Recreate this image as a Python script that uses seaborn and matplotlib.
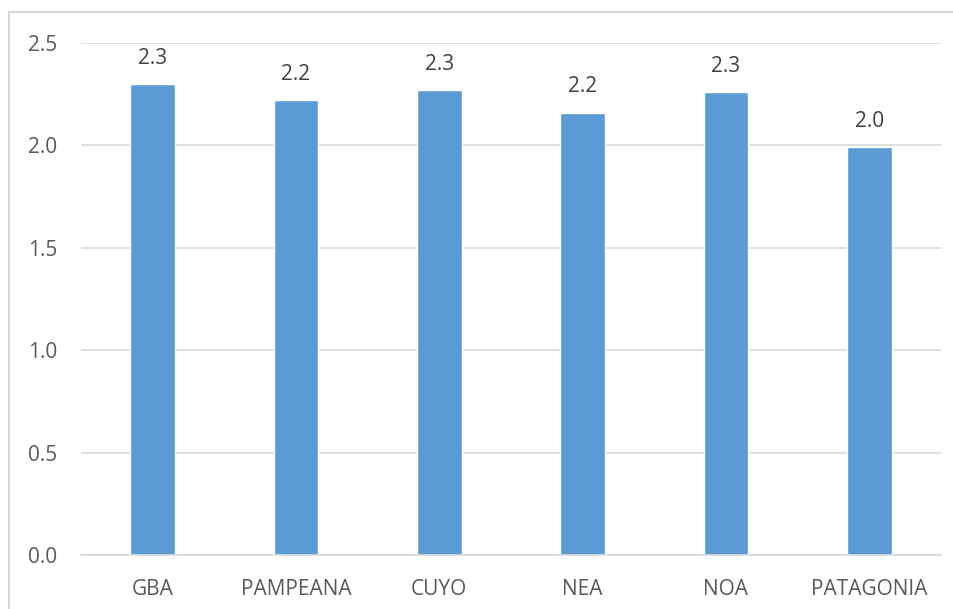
import matplotlib
matplotlib.use("Agg")
import matplotlib.pyplot as plt
import seaborn as sns
import pandas as pd
from matplotlib.patches import Rectangle

regions = ["GBA", "PAMPEANA", "CUYO", "NEA", "NOA", "PATAGONIA"]
values = [2.30, 2.22, 2.27, 2.16, 2.26, 1.99]
yticks = [0.0, 0.5, 1.0, 1.5, 2.0, 2.5]

df = pd.DataFrame({"region": regions, "value": values})

sns.set_theme(style="white")
plt.rcParams['font.family'] = ['Open Sans', 'DejaVu Sans']

fig = plt.figure(figsize=(9.54, 6.09), dpi=100)
ax = fig.add_axes([81/954, 54/609, 860/954, 512/609])

sns.barplot(data=df, x="region", y="value", color="#5B9BD5", saturation=1,
            width=0.31, ax=ax)

ax.set_ylim(0, 2.5)
ax.set_xlim(-0.5, 5.5)
ax.set_yticks(yticks)
ax.set_yticklabels([f"{t:.1f}" for t in yticks])
ax.yaxis.grid(True, color="#d9d9d9", linewidth=1.2)
ax.set_axisbelow(True)
for s in ["top", "right", "left"]:
    ax.spines[s].set_visible(False)
ax.spines["bottom"].set_color("#d9d9d9")
ax.spines["bottom"].set_linewidth(1.2)
ax.set_xlabel("")
ax.set_ylabel("")
ax.tick_params(axis="both", length=0, labelsize=15, labelcolor="#595959")
ax.tick_params(axis="x", pad=17)
ax.tick_params(axis="y", pad=17)

for c in ax.containers:
    ax.bar_label(c, labels=[f"{v:.1f}" for v in values], padding=11,
                 fontsize=15, color="#404040")

fig.patches.append(Rectangle((9/954, -0.1), 1.2, (609-12)/609 + 0.1,
                             transform=fig.transFigure, fill=False,
                             edgecolor="#d9d9d9", linewidth=1.5))

fig.savefig("out.png", dpi=100)
